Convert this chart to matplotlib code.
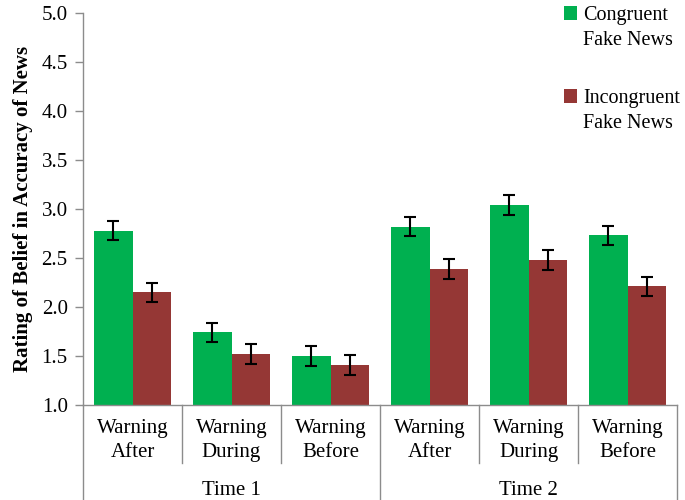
import matplotlib
matplotlib.use("Agg")
import matplotlib.pyplot as plt
from matplotlib.patches import Patch
import numpy as np

categories = ["Warning\nAfter", "Warning\nDuring", "Warning\nBefore",
              "Warning\nAfter", "Warning\nDuring", "Warning\nBefore"]
groups = ["Time 1", "Time 2"]
congruent = [2.78, 1.74, 1.50, 2.82, 3.04, 2.73]
congruent_err = [0.10, 0.10, 0.10, 0.10, 0.10, 0.10]
incongruent = [2.15, 1.52, 1.41, 2.39, 2.48, 2.21]
incongruent_err = [0.10, 0.10, 0.10, 0.10, 0.10, 0.10]
series_names = [["Congruent", "Fake News"], ["Incongruent", "Fake News"]]
yticks = [1.0, 1.5, 2.0, 2.5, 3.0, 3.5, 4.0, 4.5, 5.0]

plt.rcParams['font.family'] = ['Liberation Serif', 'DejaVu Serif']

fig = plt.figure(figsize=(6.85, 5.0), dpi=100)
ax = fig.add_axes([83/685, 95/500, 594/685, 392/500])

green = "#00B050"
red = "#953735"
gray = "#8c8c8c"
x = np.arange(len(categories))
w = 0.385
ekw = dict(ecolor="black", elinewidth=1.5, capsize=4, capthick=1.5)

ax.bar(x - w/2, congruent, w, color=green, yerr=congruent_err, error_kw=ekw)
ax.bar(x + w/2, incongruent, w, color=red, yerr=incongruent_err, error_kw=ekw)

ax.set_ylim(1.0, 5.0)
ax.set_xlim(-0.5, len(categories) - 0.5)
ax.set_yticks(yticks)
ax.set_yticklabels([f"{t:.1f}" for t in yticks], fontsize=15)
ax.tick_params(axis='y', direction='out', length=6, color=gray, width=1, pad=5)
ax.set_xticks([])

for s in ["top", "right"]:
    ax.spines[s].set_visible(False)
for s in ["left", "bottom"]:
    ax.spines[s].set_color(gray)
    ax.spines[s].set_linewidth(1)

trans = ax.get_xaxis_transform()
for xi, lab in zip(x, categories):
    ax.text(xi, -0.035, lab, transform=trans, ha='center', va='top',
            fontsize=15, linespacing=1.35)
for gi, g in enumerate(groups):
    ax.text(1 + 3*gi, -0.195, g, transform=trans, ha='center', va='top', fontsize=15)

for xs in [0.5, 1.5, 3.5, 4.5]:
    ax.plot([xs, xs], [0, -0.148], transform=trans, color=gray, lw=1, clip_on=False)
for xs in [-0.5, 2.5, 5.5]:
    ax.plot([xs, xs], [0, -0.245], transform=trans, color=gray, lw=1, clip_on=False)

ax.set_ylabel("Rating of Belief in Accuracy of News", fontsize=15, fontweight='bold', labelpad=6)

# legends: one per series, handle aligned with the first text line
legend_specs = [(green, series_names[0], 1 - 4/500), (red, series_names[1], 1 - 87/500)]
blank = Patch(facecolor='none', edgecolor='none')
for color, names, ytop in legend_specs:
    leg = fig.legend(handles=[Patch(facecolor=color, edgecolor='none'), blank],
                     labels=names, loc='upper left',
                     bbox_to_anchor=(562/685, ytop), bbox_transform=fig.transFigure,
                     frameon=False, prop={'family': ['Liberation Serif'], 'size': 14.5},
                     handlelength=0.65, handleheight=0.65, handletextpad=0.3,
                     labelspacing=0.3, borderaxespad=0, borderpad=0.1)

fig.savefig("out.png", dpi=100)
